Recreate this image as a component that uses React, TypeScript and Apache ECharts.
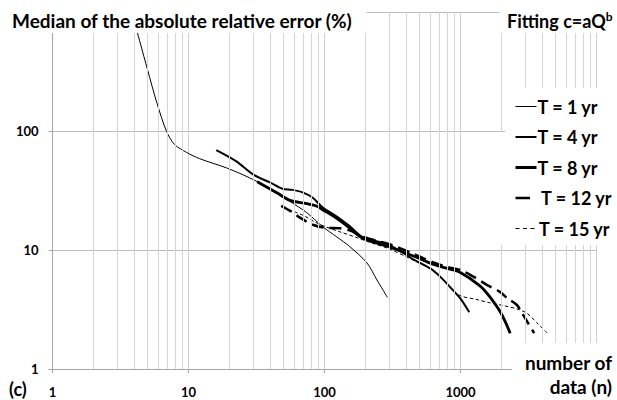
import React, { useEffect, useRef } from 'react';
import * as echarts from 'echarts';

// number of data (n) and median absolute relative error (%) per return period
const t1N = [4, 5, 5.85, 6.9, 7.9, 9.7, 12.1, 19, 28, 40, 56, 74, 97, 123, 153, 205, 243, 290];
const t1V = [830, 327, 173, 99, 77, 66, 58.5, 49, 40.5, 32.7, 25.5, 20.6, 15.7, 12.9, 10.7, 7.8, 5.6, 4.0];

const t4N = [16, 22.5, 30, 40, 49, 58, 69, 82, 97, 123, 153, 190, 300, 446, 600, 705, 880, 1000, 1160];
const t4V = [69, 55.5, 43, 36.8, 32.7, 32, 30.5, 27.5, 22.7, 19.1, 15.9, 12.9, 11.0, 8.4, 7.0, 6.0, 4.6, 3.9, 3.0];

const t8N = [32, 44.6, 55.6, 74, 88, 97, 120, 150, 190, 300, 450, 626, 800, 990, 1390, 1640, 2000, 2320];
const t8V = [37.5, 30.3, 26.1, 24.5, 23.3, 21.8, 18.8, 15.6, 12.6, 10.6, 8.9, 7.6, 7.0, 6.5, 5.0, 4.05, 2.9, 2.0];

const t12N = [48, 58, 66, 82, 100, 130, 153, 190, 240, 300, 450, 626, 800, 1000, 1250, 1560, 1950, 2200, 2600, 2825, 3125, 3480];
const t12V = [23.5, 20.8, 18.7, 16.3, 15.4, 15.2, 14.6, 13.0, 12.0, 11.2, 9.3, 7.9, 7.2, 6.8, 5.95, 5.1, 4.45, 3.95, 3.45, 2.97, 2.45, 2.0];

const t15N = [60, 70, 85, 100, 130, 170, 220, 300, 450, 565, 700, 806, 988, 1300, 1640, 2100, 2600, 3070, 3640, 4350];
const t15V = [21, 19.5, 17.2, 15.8, 14.2, 12.8, 11.5, 10.2, 8.2, 7.2, 6.1, 5.1, 4.15, 3.85, 3.6, 3.4, 3.2, 2.95, 2.45, 2.0];

const legendLabels = ['T = 1 yr', 'T = 4 yr', 'T = 8 yr', 'T = 12 yr', 'T = 15 yr'];
const xMinorLines = [2, 3, 4, 5, 6, 7, 8, 9, 20, 30, 40, 50, 60, 70, 80, 90, 200, 300, 400, 500, 600, 700, 800, 900, 2000, 3000, 4000, 5000, 6000, 7000, 8000, 9000];

const zip = (n: number[], v: number[]) => n.map((x, i) => [x, v[i]]);

const FONT = 'Lato';

export default function App() {
  const ref = useRef<HTMLDivElement>(null);
  useEffect(() => {
    if (!ref.current) return;
    const chart = echarts.init(ref.current, undefined, { renderer: 'svg' });
    const lineBase = { type: 'line', symbol: 'none', smooth: 0.3, silent: true, z: 3 } as any;
    const bold = (size: number) => `bold ${size}px ${FONT}`;
    const txt = (text: string, x: number, y: number, align = 'left', size = 18) => ({
      type: 'text', x, y, z: 102,
      style: { text, font: bold(size), fill: '#000', textAlign: align, textVerticalAlign: 'middle' },
    });
    const box = (x: number, y: number, w: number, h: number) => ({
      type: 'rect', z: 100, shape: { x, y, width: w, height: h }, style: { fill: '#ffffff' },
    });
    const legY = [106.5, 137, 167.5, 198, 228.5];
    const option: any = {
      animation: false,
      grid: { left: 52.5, right: 20.5, top: 12, bottom: 31 },
      xAxis: {
        type: 'log', logBase: 10, min: 1, max: 10000,
        axisLine: { show: true, lineStyle: { color: '#a6a6a6', width: 1 } },
        axisTick: { show: true, inside: false, length: 4, lineStyle: { color: '#a6a6a6' } },
        axisLabel: {
          margin: 16, color: '#000', fontFamily: FONT, fontWeight: 'bold', fontSize: 13,
          formatter: (v: number) => (Math.round(v) <= 1000 ? String(Math.round(v)) : ''),
        },
        splitLine: { show: true, lineStyle: { color: '#cfcfcf', width: 1 } },
        minorTick: { show: false }, minorSplitLine: { show: false },
      },
      yAxis: {
        type: 'log', logBase: 10, min: 1, max: 1000,
        axisLine: { show: true, lineStyle: { color: '#a6a6a6', width: 1 } },
        axisTick: { show: true, inside: false, length: 4, lineStyle: { color: '#a6a6a6' } },
        axisLabel: {
          margin: 14, color: '#000', fontFamily: FONT, fontWeight: 'bold', fontSize: 13,
          formatter: (v: number) => (Math.round(v) <= 100 ? String(Math.round(v)) : ''),
        },
        splitLine: { show: true, lineStyle: { color: '#bdbdbd', width: 1 } },
      },
      series: [
        {
          type: 'line', name: 'minor', data: [[1, 1]], symbol: 'none', silent: true, z: 1,
          lineStyle: { opacity: 0 },
          markLine: {
            silent: true, symbol: ['none', 'none'], label: { show: false },
            lineStyle: { color: '#d4d4d4', width: 1, type: 'solid' },
            emphasis: { disabled: true },
            data: xMinorLines.map((v) => ({ xAxis: v })),
          },
        },
        { ...lineBase, name: legendLabels[0], data: zip(t1N, t1V), lineStyle: { color: '#000', width: 1 } },
        { ...lineBase, name: legendLabels[1], data: zip(t4N, t4V), lineStyle: { color: '#000', width: 2 } },
        { ...lineBase, name: legendLabels[2], data: zip(t8N, t8V), lineStyle: { color: '#000', width: 2.8 } },
        { ...lineBase, name: legendLabels[3], data: zip(t12N, t12V), lineStyle: { color: '#000', width: 2.5, type: [12, 6] } },
        { ...lineBase, name: legendLabels[4], data: zip(t15N, t15V), lineStyle: { color: '#000', width: 1, type: [3.5, 2.5] } },
      ],
      graphic: [
        box(0, 0, 366.5, 33),
        box(499.5, 0, 117.5, 33),
        box(505, 88, 112, 44),
        box(468, 132, 149, 113),
        box(512, 343, 105, 57),
        txt('Median of the absolute relative error (%)', 12, 20, 'left', 19),
        {
          type: 'text', x: 507, y: 21, z: 102,
          style: {
            text: '{a|Fitting c=aQ}{b|b}',
            textVerticalAlign: 'middle',
            rich: {
              a: { fontFamily: FONT, fontWeight: 'bold', fontSize: 18, lineHeight: 22, verticalAlign: 'middle', fill: '#000' },
              b: { fontFamily: FONT, fontWeight: 'bold', fontSize: 12, lineHeight: 12, verticalAlign: 'top', fill: '#000' },
            },
          },
        },
        { type: 'line', z: 102, shape: { x1: 515.5, y1: legY[0], x2: 536.5, y2: legY[0] }, style: { stroke: '#000', lineWidth: 1 } },
        { type: 'line', z: 102, shape: { x1: 515.5, y1: legY[1], x2: 536.5, y2: legY[1] }, style: { stroke: '#000', lineWidth: 2 } },
        { type: 'line', z: 102, shape: { x1: 515.5, y1: legY[2], x2: 536.5, y2: legY[2] }, style: { stroke: '#000', lineWidth: 3 } },
        { type: 'line', z: 102, shape: { x1: 515.5, y1: legY[3], x2: 530, y2: legY[3] }, style: { stroke: '#000', lineWidth: 2.5 } },
        { type: 'line', z: 102, shape: { x1: 515.5, y1: legY[4], x2: 537, y2: legY[4] }, style: { stroke: '#000', lineWidth: 1.2, lineDash: [4, 3.5] } },
        txt(legendLabels[0], 537.5, legY[0]),
        txt(legendLabels[1], 537.5, legY[1]),
        txt(legendLabels[2], 537.5, legY[2]),
        txt(legendLabels[3], 541, legY[3]),
        txt(legendLabels[4], 539, legY[4]),
        txt('number of', 612, 362, 'right', 19),
        txt('data (n)', 612, 386, 'right', 19),
        txt('(c)', 9, 389),
      ],
    };
    chart.setOption(option);
    return () => chart.dispose();
  }, []);
  return <div ref={ref} style={{ position: 'absolute', left: 0, top: 0, width: 617, height: 400 }} />;
}
